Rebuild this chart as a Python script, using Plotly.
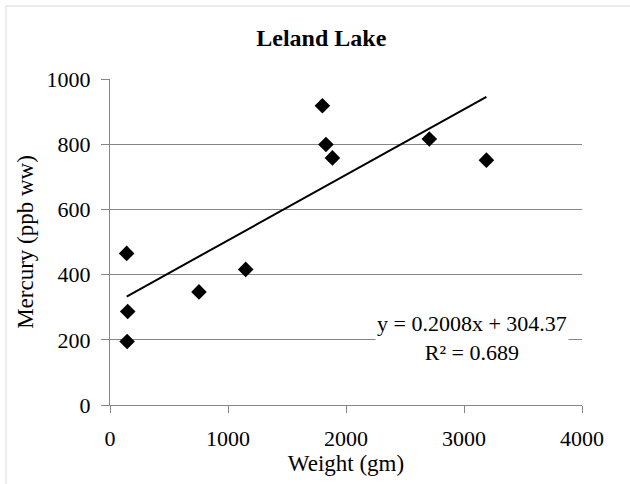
import plotly.graph_objects as go

# Data
weight_gm = [141, 150, 145, 754, 1150, 1800, 1830, 1885, 2706, 3190]
mercury_ppb = [465, 287, 195, 347, 416, 918, 799, 758, 816, 751]

slope = 0.2008
intercept = 304.37
r_squared = 0.689

x_ticks = [0, 1000, 2000, 3000, 4000]
y_ticks = [0, 200, 400, 600, 800, 1000]

FONT = "Liberation Serif"

trend_x = [min(weight_gm), max(weight_gm)]
trend_y = [slope * v + intercept for v in trend_x]

fig = go.Figure()
fig.add_trace(go.Scatter(
    x=trend_x, y=trend_y, mode="lines",
    line=dict(color="black", width=2), showlegend=False, hoverinfo="skip"))
fig.add_trace(go.Scatter(
    x=weight_gm, y=mercury_ppb, mode="markers",
    marker=dict(symbol="diamond", size=12, color="black"),
    showlegend=False))

fig.add_annotation(
    x=3070, y=205, xref="x", yref="y",
    text=f"y = {slope}x + {intercept}<br>R² = {r_squared}",
    showarrow=False, align="center",
    font=dict(family=FONT, size=22, color="black"),
    bgcolor="white", xanchor="center", yanchor="middle", borderpad=1)

L, R, T, B = 110, 48, 79, 79
pw = 630 - L - R
ph = 484 - T - B
fig.add_shape(type="rect", xref="paper", yref="paper",
              x0=(6 - L) / pw, x1=2, y0=-2, y1=(484 - B - 6) / ph,
              line=dict(color="#d9d9d9", width=1), fillcolor="rgba(0,0,0,0)",
              layer="below")

fig.update_layout(
    width=630, height=484,
    margin=dict(l=L, r=R, t=T, b=B),
    paper_bgcolor="white", plot_bgcolor="white",
    font=dict(family=FONT, size=22, color="black"),
    title=dict(text="<b>Leland Lake</b>", x=0.51, xanchor="center",
               y=1 - 38 / 484, yanchor="middle",
               font=dict(family=FONT, size=24, color="black")),
    xaxis=dict(range=[0, 4000], tickvals=x_ticks, showgrid=False,
               showline=True, linecolor="#868686", linewidth=1,
               ticks="outside", ticklen=7, tickcolor="#868686",
               ticklabelstandoff=7,
               tickfont=dict(family=FONT, size=22),
               zeroline=False,
               title=dict(text="Weight (gm)", standoff=2,
                          font=dict(family=FONT, size=23))),
    yaxis=dict(range=[0, 1000], tickvals=y_ticks, showgrid=True,
               gridcolor="#868686", gridwidth=1,
               showline=True, linecolor="#868686", linewidth=1,
               ticks="outside", ticklen=8, tickcolor="#868686",
               ticklabelstandoff=6,
               tickfont=dict(family=FONT, size=22),
               zeroline=False,
               title=dict(text="Mercury (ppb ww)", standoff=6,
                          font=dict(family=FONT, size=23))),
)

fig.write_html("out.html")
